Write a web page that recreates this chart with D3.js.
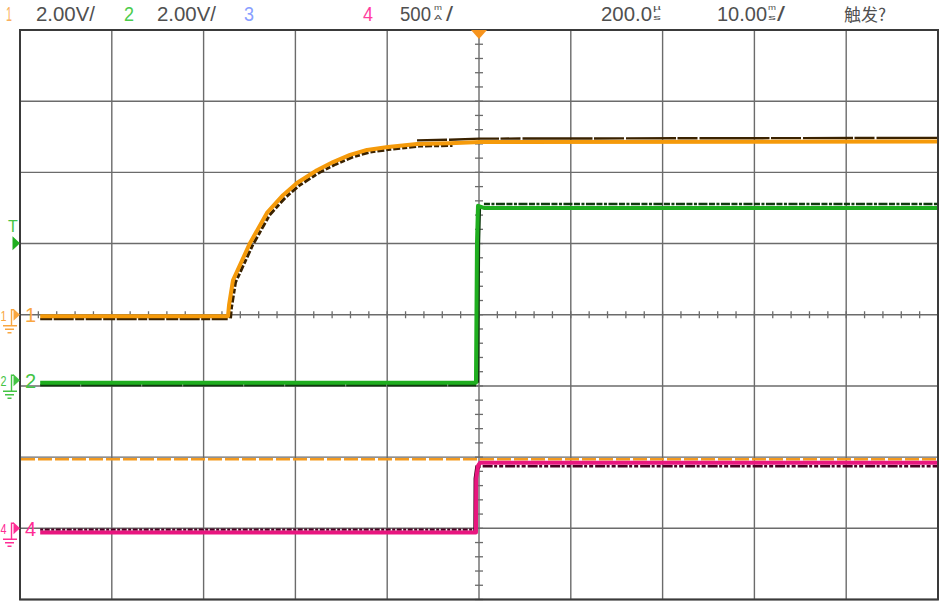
<!DOCTYPE html>
<html><head><meta charset="utf-8">
<script src="https://cdn.jsdelivr.net/npm/d3@7"></script>
<style>body{margin:0;background:#fff}svg{display:block}</style>
</head><body><svg id="c" width="940" height="606"></svg>
<script>
// ---------- data (time in ms, ch1/ch2 in V, ch4 in mA) ----------
const timeDomain = [-50, 50];          // 10.00 ms/div, 10 divisions
const divDomain = [-4, 4];             // 8 vertical divisions
const ch1Time  = [-47.8, -27.34, -27.23, -26.8, -24.95, -23.1, -21.35, -19.83, -17.65, -15.9, -14.05, -12.2, -9.91, -6.75, -3.16, 0.1, 49.9];
const ch1Volts = [-0.04, -0.04, 0.27, 0.97, 2.01, 2.86, 3.36, 3.70, 4.06, 4.29, 4.49, 4.63, 4.71, 4.80, 4.82, 4.85, 4.87];
const ch2Time  = [-47.8, -0.33, -0.22, -0.11, 0.54, 49.9];
const ch2Volts = [-0.07, -0.07, 3.85, 4.90, 4.84, 4.84];
const ch4Time  = [-47.8, -0.33, -0.30, -0.10, 0.10, 49.9];
const ch4mA    = [-30, -30, 350, 441, 460, 460];
const ch1VoltsPerDiv = 2, ch2VoltsPerDiv = 2, ch4mAPerDiv = 500;
const ch1OffsetDiv = 0, ch2OffsetDiv = -0.92, ch4OffsetDiv = -3;
const trigLevelV = 3.85;        // ch2 trigger level
const refLineDiv = -2.03;       // orange dashed reference line

// ---------- scales ----------
const svg = d3.select("#c");
const L = 20, R = 938, T = 30, B = 599.5;
const x = d3.scaleLinear().domain(timeDomain).range([L, R]);
const y = d3.scaleLinear().domain(divDomain).range([B, T]);
const gridCol = "#6b6b6b";
const txtCol = "#505050";

// header text
const hdr = svg.append("g").attr("font-family", "'Liberation Sans', Arial, sans-serif").attr("font-size", 20);
function ht(txt, x0, len, col){ const t = hdr.append("text").attr("x", x0).attr("y", 21).attr("fill", col).text(txt); if(len) t.attr("textLength", len).attr("lengthAdjust", "spacingAndGlyphs"); return t; }
ht("1", 6, 6, "#f9b060");
ht("2.00V/", 36, 59, txtCol);
ht("2", 124, 10, "#4ccc4c");
ht("2.00V/", 157, 59, txtCol);
ht("3", 244, 10, "#8aa0ff");
ht("4", 363, 10, "#ff3d9d");
ht("500", 400, 31, txtCol);
ht("/", 446, 7, txtCol);
ht("200.0", 601, 51, txtCol);
ht("10.00", 717, 50, txtCol);
ht("/", 777, 8, txtCol);
function stack(top, bot, x0){
  hdr.append("text").attr("x", x0).attr("y", 10).attr("font-size", 8).attr("fill", txtCol).attr("textLength", 8).attr("lengthAdjust","spacingAndGlyphs").text(top);
  hdr.append("text").attr("x", x0).attr("y", 20).attr("font-size", 8).attr("fill", txtCol).attr("textLength", 8).attr("lengthAdjust","spacingAndGlyphs").text(bot);
}
stack("m", "A", 434);
stack("µ", "s", 653);
stack("m", "s", 768);
hdr.append("text").attr("x", 844).attr("y", 21).attr("font-size", 17)
  .attr("font-family", "'Noto Sans CJK SC', sans-serif").attr("fill", txtCol).text("触发?");

// grid
const g = svg.append("g");
g.selectAll(".vg").data(d3.range(timeDomain[0], timeDomain[1] + 1, 10)).join("line")
  .attr("x1", d => x(d)).attr("x2", d => x(d)).attr("y1", T).attr("y2", B)
  .attr("stroke", gridCol).attr("stroke-width", 1.4);
g.selectAll(".hg").data(d3.range(divDomain[0], divDomain[1] + 1, 1)).join("line")
  .attr("x1", L).attr("x2", R).attr("y1", d => y(d)).attr("y2", d => y(d))
  .attr("stroke", gridCol).attr("stroke-width", 1.4);
// center minor ticks
g.selectAll(".ht").data(d3.range(timeDomain[0], timeDomain[1] + 0.01, 2)).join("line")
  .attr("x1", d => x(d)).attr("x2", d => x(d)).attr("y1", y(0) - 3.5).attr("y2", y(0) + 3.5)
  .attr("stroke", gridCol).attr("stroke-width", 1.3);
g.selectAll(".vt").data(d3.range(divDomain[0], divDomain[1] + 0.01, 0.2)).join("line")
  .attr("x1", x(0) - 4).attr("x2", x(0) + 4).attr("y1", d => y(d)).attr("y2", d => y(d))
  .attr("stroke", gridCol).attr("stroke-width", 1.3);
// border
g.append("rect").attr("x", L).attr("y", T).attr("width", R - L).attr("height", B - T)
  .attr("fill", "none").attr("stroke", "#3a3a3a").attr("stroke-width", 2);

// reference dashed line
svg.append("line").attr("x1", L + 1).attr("x2", R - 1).attr("y1", y(refLineDiv)).attr("y2", y(refLineDiv))
  .attr("stroke", "#f39a1f").attr("stroke-width", 2.5).attr("stroke-dasharray", "14 3");

// traces
function pts(ts, vs, perDiv, off){ return ts.map((t, i) => [x(t), y(vs[i] / perDiv + off)]); }
const line = d3.line();
function trace(p, col, dark, noise){
  const tg = svg.append("g");
  noise.forEach(n => {
    tg.append("path").attr("d", line(p.filter(n.f))).attr("fill", "none")
      .attr("stroke", dark).attr("stroke-width", n.w || 2.4).attr("stroke-dasharray", n.dash)
      .attr("transform", `translate(${n.dx},${n.dy})`);
  });
  tg.append("path").attr("d", line(p)).attr("fill", "none").attr("stroke", col)
    .attr("stroke-width", 4).attr("stroke-linejoin", "round");
}
const p1 = pts(ch1Time, ch1Volts, ch1VoltsPerDiv, ch1OffsetDiv);
const p2 = pts(ch2Time, ch2Volts, ch2VoltsPerDiv, ch2OffsetDiv);
const p4 = pts(ch4Time, ch4mA, ch4mAPerDiv, ch4OffsetDiv);
trace(p1, "#f59a0a", "#3a2200", [
  {f: (d, i) => i <= 1, dx: 0, dy: 3, dash: "12 1.5 20 1.5 9 1.5 16 1.5"},
  {f: (d, i) => i >= 1 && i <= 14, dx: 2.5, dy: 2.2, dash: "7 2 5 2", w: 3},
  {f: (d, i) => i >= 13, dx: 0, dy: -3.5, dash: "30 2 50 1.5 20 2 70 1.5"}
]);
trace(p2, "#1fae1f", "#0f3a0f", [
  {f: (d, i) => i <= 1, dx: 0, dy: 2.5, dash: "40 1 60 1"},
  {f: (d, i) => i >= 1 && i <= 3, dx: 2, dy: 0, dash: "none"},
  {f: (d, i) => i >= 4, dx: 0, dy: -4, dash: "6 1.5 3 1.5 9 1.5"}
]);
trace(p4, "#e8167f", "#4a0022", [
  {f: (d, i) => i <= 1, dx: 0, dy: -3, dash: "3 1.5 5 1.5"},
  {f: (d, i) => i >= 1 && i <= 3, dx: -1.5, dy: 0, dash: "none"},
  {f: (d, i) => i >= 3, dx: 0, dy: 3.5, dash: "4 2 10 1.5 3 2"}
]);

// top trigger-position marker
svg.append("path").attr("d", `M${x(0) - 8},${T} L${x(0) + 8},${T} L${x(0)},${T + 9} Z`).attr("fill", "#f7941d");

// left channel markers
const markers = [
  {n: "1", off: ch1OffsetDiv, col: "#f9a640"},
  {n: "2", off: ch2OffsetDiv, col: "#44c444"},
  {n: "4", off: ch4OffsetDiv, col: "#ff2d95"}
];
markers.forEach(m => {
  const yy = y(m.off);
  const mg = svg.append("g").attr("fill", m.col).attr("stroke", m.col);
  mg.append("text").attr("x", 0.5).attr("y", yy + 6).attr("font-size", 15).attr("stroke", "none")
    .attr("textLength", 6).attr("lengthAdjust", "spacingAndGlyphs")
    .attr("font-family", "'Liberation Sans', Arial, sans-serif").text(m.n);
  mg.append("path").attr("d", `M11.5,${yy + 11} V${yy - 5} H14`).attr("fill", "none").attr("stroke-width", 1.4);
  mg.append("path").attr("d", `M3,${yy + 11} H17 M5,${yy + 14.5} H14 M7.5,${yy + 18} H11.5`).attr("fill", "none").attr("stroke-width", 1.4);
  mg.append("path").attr("d", `M13.5,${yy - 6} L20,${yy} L13.5,${yy + 6} Z`).attr("stroke", "none");
  mg.append("text").attr("x", 25).attr("y", yy + 7.5).attr("font-size", 20).attr("stroke", "none")
    .attr("font-family", "'Liberation Sans', Arial, sans-serif").text(m.n);
});
// trigger level marker (ch2)
const ty = y(trigLevelV / ch2VoltsPerDiv + ch2OffsetDiv);
svg.append("path").attr("d", `M12.5,${ty - 7} L20,${ty} L12.5,${ty + 7} Z`).attr("fill", "#1fae1f");
svg.append("text").attr("x", 8).attr("y", ty - 11).attr("font-size", 16).attr("fill", "#44c444")
  .attr("font-family", "'Liberation Sans', Arial, sans-serif").text("T");
</script></body></html>
